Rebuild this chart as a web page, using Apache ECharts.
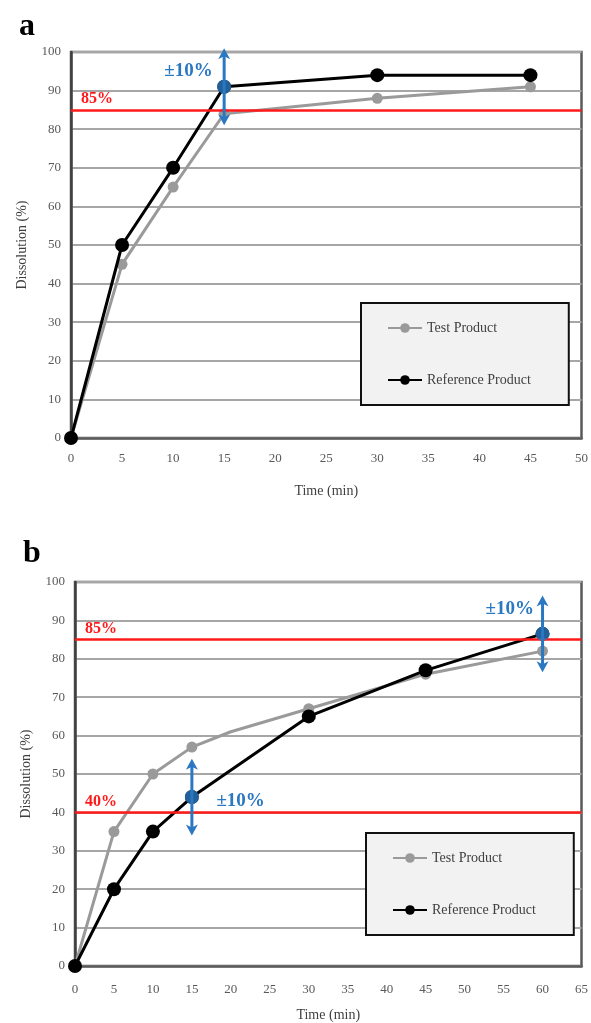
<!DOCTYPE html>
<html>
<head>
<meta charset="utf-8">
<script src="https://cdn.jsdelivr.net/npm/echarts@6/dist/echarts.min.js"></script>
<style>html,body{margin:0;padding:0;background:#fff;}#c{width:591px;height:1023px;}</style>
</head>
<body>
<div id="c"></div>
<script>
// ---- Data ----
var timeA = [0, 5, 10, 15, 30, 45];
var testA = [0, 45, 65, 84, 88, 91];
var refA = [0, 50, 70, 91, 94, 94];

var timeTestB = [0, 5, 10, 15, 20, 30, 45, 60];
var testB = [0, 35, 50, 57, 61, 67, 76, 82];
var timeRefB = [0, 5, 10, 15, 30, 45, 60];
var refB = [0, 20, 35, 44, 65, 77, 86.5];

var xTicksA = [0, 50, 5];   // min, max, interval
var xTicksB = [0, 65, 5];
var yTicks = [0, 100, 10];

var limitA = [85];
var limitB = [85, 40];
var limitLabelsA = ['85%'];
var limitLabelsB = ['85%', '40%'];

var checkA = [{t: 15, v: 91}];            // ±10% check points panel a
var checkB = [{t: 15, v: 44}, {t: 60, v: 86.5}];
var tolerance = 10;
var tolText = '±10%';

var seriesNames = ['Test Product', 'Reference Product'];

// ---- Helpers ----
function pairs(xs, ys) { return xs.map(function (x, i) { return [x, ys[i]]; }); }
var SERIF = 'Liberation Serif';
var BLUE = '#2a78c2';
var RED = '#ff1a1a';
var GRAY = '#9a9a9a';

function xAxisOf(gi, t) {
  return {
    gridIndex: gi, type: 'value', min: t[0], max: t[1], interval: t[2],
    name: 'Time (min)', nameLocation: 'middle', nameGap: gi === 0 ? 46 : 42,
    nameTextStyle: {fontFamily: SERIF, fontSize: 14, color: '#404040'},
    axisLine: {show: true, lineStyle: {color: '#595959', width: 2.5}},
    axisTick: {show: false},
    axisLabel: {fontFamily: SERIF, fontSize: 13, color: '#595959', margin: gi === 0 ? 14 : 17},
    splitLine: {show: false}
  };
}
function yAxisOf(gi) {
  return {
    gridIndex: gi, type: 'value', min: yTicks[0], max: yTicks[1], interval: yTicks[2],
    name: 'Dissolution (%)', nameLocation: 'middle', nameGap: 42,
    nameTextStyle: {fontFamily: SERIF, fontSize: 14, color: '#404040'},
    axisLine: {show: true, lineStyle: {color: '#404040', width: 2.5}},
    axisTick: {show: false},
    axisLabel: {fontFamily: SERIF, fontSize: 13, color: '#595959', margin: 10},
    splitLine: {show: true, lineStyle: {color: '#a6a6a6', width: 2}}
  };
}
function limitSeries(gi, vals, labels) {
  return {
    type: 'line', xAxisIndex: gi, yAxisIndex: gi, data: [], silent: true,
    markLine: {
      symbol: 'none', silent: true, animation: false,
      lineStyle: {color: RED, width: 2.5, type: 'solid'},
      label: {show: true, position: 'insideStartTop', distance: [10, 3],
        fontFamily: SERIF, fontWeight: 'bold', fontSize: 16, color: RED,
        formatter: function (p) { return p.name; }},
      data: vals.map(function (v, i) { return {yAxis: v, name: labels[i]}; })
    }
  };
}
function productSeries(gi, name, pts, isRef) {
  return {
    name: name, type: 'line', xAxisIndex: gi, yAxisIndex: gi, data: pts,
    symbol: 'circle', symbolSize: isRef ? 14 : 11, z: isRef ? 4 : 3,
    lineStyle: {color: isRef ? '#000' : GRAY, width: 3},
    itemStyle: {color: isRef ? '#000' : GRAY},
    animation: false
  };
}
function arrowSeries(gi, pts) {
  return {
    type: 'custom', xAxisIndex: gi, yAxisIndex: gi, clip: false, z: 9, silent: true,
    data: pts.map(function (p) { return [p.t, p.v - tolerance, p.v + tolerance]; }),
    encode: {x: 0, y: [1, 2]},
    renderItem: function (params, api) {
      var lo = api.coord([api.value(0), api.value(1)]);
      var hi = api.coord([api.value(0), api.value(2)]);
      var x = lo[0], hw = 6, hl = 11;
      var st = {fill: BLUE};
      return {
        type: 'group',
        children: [
          {type: 'line', shape: {x1: x, y1: lo[1] - 4, x2: x, y2: hi[1] + 4},
            style: {stroke: BLUE, lineWidth: 3}},
          {type: 'polygon', shape: {points: [[x, hi[1]], [x - hw, hi[1] + hl], [x, hi[1] + hl - 3], [x + hw, hi[1] + hl]]}, style: st},
          {type: 'polygon', shape: {points: [[x, lo[1]], [x - hw, lo[1] - hl], [x, lo[1] - hl + 3], [x + hw, lo[1] - hl]]}, style: st}
        ]
      };
    },
    animation: false
  };
}
function checkSeries(gi, pts, labelSpecs) {
  return {
    type: 'scatter', xAxisIndex: gi, yAxisIndex: gi, clip: false, z: 10,
    symbolSize: 14, itemStyle: {color: BLUE},
    data: pts.map(function (p) { return [p.t, p.v]; }),
    markPoint: {
      symbol: 'circle', symbolSize: 1, itemStyle: {color: 'rgba(0,0,0,0)'}, silent: true, animation: false,
      data: labelSpecs.map(function (s) {
        return {coord: s.coord, value: tolText,
          label: {show: true, position: s.pos, distance: s.dist, formatter: tolText,
            fontFamily: SERIF, fontWeight: 'bold', fontSize: 19, color: BLUE}};
      })
    },
    animation: false
  };
}
function legendAt(left, top) {
  return {
    data: seriesNames, orient: 'vertical', left: left, top: top,
    padding: [18, 38, 18, 26], itemGap: 38, itemWidth: 34, itemHeight: 12,
    backgroundColor: '#f2f2f2', borderColor: '#111', borderWidth: 2,
    textStyle: {fontFamily: SERIF, fontSize: 14, color: '#404040'},
    selectedMode: false
  };
}

var option = {
  backgroundColor: '#fff',
  animation: false,
  title: [
    {text: 'a', left: 14, top: 6, textStyle: {fontFamily: SERIF, fontWeight: 'bold', fontSize: 32, color: '#000'}},
    {text: 'b', left: 18, top: 533, textStyle: {fontFamily: SERIF, fontWeight: 'bold', fontSize: 32, color: '#000'}}
  ],
  grid: [
    {left: 71, top: 52, width: 511, height: 386, show: true, borderColor: '#595959', borderWidth: 2.5, backgroundColor: 'transparent'},
    {left: 75, top: 582, width: 510, height: 388, show: true, borderColor: '#595959', borderWidth: 2.5, backgroundColor: 'transparent'}
  ],
  legend: [legendAt(361, 303), legendAt(366, 833)],
  xAxis: [xAxisOf(0, xTicksA), xAxisOf(1, xTicksB)],
  yAxis: [yAxisOf(0), yAxisOf(1)],
  series: [
    limitSeries(0, limitA, limitLabelsA),
    limitSeries(1, limitB, limitLabelsB),
    productSeries(0, seriesNames[0], pairs(timeA, testA), false),
    productSeries(0, seriesNames[1], pairs(timeA, refA), true),
    productSeries(1, seriesNames[0], pairs(timeTestB, testB).map(function (p) {
      return p[0] === 20 ? {value: p, symbol: 'none'} : p;
    }), false),
    productSeries(1, seriesNames[1], pairs(timeRefB, refB), true),
    arrowSeries(0, checkA),
    arrowSeries(1, checkB),
    checkSeries(0, checkA, [{coord: [15, 95], pos: 'left', dist: 11}]),
    checkSeries(1, checkB, [{coord: [60, 93], pos: 'left', dist: 8}, {coord: [15, 43], pos: 'right', dist: 24}])
  ]
};
var chart = echarts.init(document.getElementById('c'), null, {renderer: 'canvas'});
chart.setOption(option);
</script>
</body>
</html>
